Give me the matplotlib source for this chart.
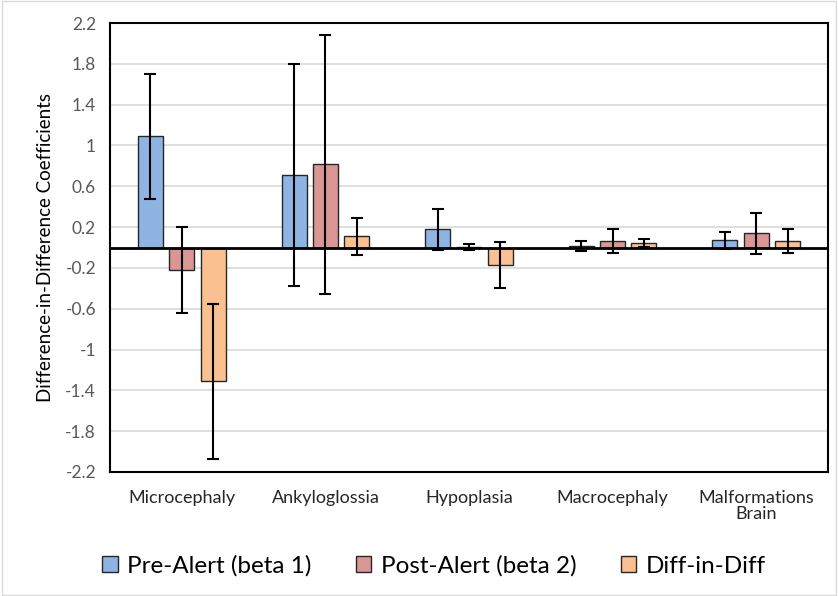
import numpy as np
import matplotlib.pyplot as plt
from matplotlib.patches import Rectangle

plt.rcParams['font.family'] = ['Lato', 'DejaVu Sans']

categories = ['Microcephaly', 'Ankyloglossia', 'Hypoplasia', 'Macrocephaly', 'Malformations\nBrain']
series = ['Pre-Alert (beta 1)', 'Post-Alert (beta 2)', 'Diff-in-Diff']
pre_alert = [1.09, 0.71, 0.18, 0.015, 0.07]
pre_err = [0.61, 1.09, 0.20, 0.045, 0.08]
post_alert = [-0.22, 0.815, 0.005, 0.063, 0.138]
post_err = [0.42, 1.27, 0.028, 0.12, 0.20]
diff_in_diff = [-1.31, 0.11, -0.175, 0.042, 0.062]
diff_err = [0.76, 0.18, 0.225, 0.04, 0.118]
colors = ['#8EB4E3', '#D99694', '#FAC090']

fig = plt.figure(figsize=(8.38, 5.96), dpi=100)
fig.patches.append(Rectangle((0.002, 0.002), 0.996, 0.996, transform=fig.transFigure,
                             fill=False, edgecolor='#D9D9D9', linewidth=1))
ax = fig.add_axes([110 / 838, 1 - 472 / 596, 718 / 838, 449 / 596])

x = np.arange(len(categories))
width = 0.174
step = 0.218
for i, (vals, errs) in enumerate([(pre_alert, pre_err), (post_alert, post_err), (diff_in_diff, diff_err)]):
    pos = x + (i - 1) * step
    ax.bar(pos, vals, width, color=colors[i], edgecolor='#262626', linewidth=1,
           label=series[i], zorder=3)
    ax.errorbar(pos, vals, yerr=errs, fmt='none', ecolor='black', elinewidth=1.5,
                capsize=4.5, capthick=1.5, zorder=4)

ax.axhline(0, color='black', linewidth=2, zorder=5)
ax.set_xlim(-0.5, len(categories) - 0.5)
ax.set_ylim(-2.2, 2.2)
yt = np.round(np.arange(-2.2, 2.21, 0.4), 1)
ax.set_yticks(yt)
ax.set_yticklabels(['%g' % v for v in yt], fontsize=12.5, color='#595959')
ax.yaxis.grid(True, color='#D9D9D9', linewidth=1.2, zorder=0)
ax.set_axisbelow(True)
ax.tick_params(axis='y', length=0, pad=10)
ax.tick_params(axis='x', length=0, pad=13)
ax.set_xticks(x)
ax.set_xticklabels(categories, fontsize=13, color='#262626', linespacing=1.0)
ax.set_ylabel('Difference-in-Difference Coefficients', fontsize=13.5, labelpad=8)
for s in ax.spines.values():
    s.set_linewidth(1.5)
    s.set_color('black')

fig.legend(loc='center', bbox_to_anchor=(434 / 838, 1 - 566 / 596), ncol=3, frameon=False,
           fontsize=17.5, handlelength=0.65, handleheight=0.65, handletextpad=0.4,
           columnspacing=1.8)

fig.savefig('out.png', dpi=100)
